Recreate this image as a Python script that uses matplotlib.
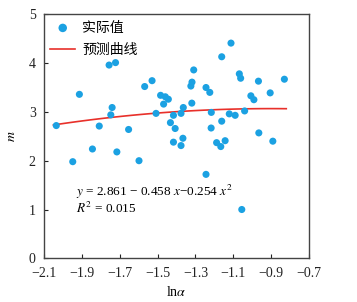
import numpy as np
import matplotlib
matplotlib.use("Agg")
import matplotlib.pyplot as plt

plt.rcParams['font.family'] = ['Liberation Serif', 'Noto Sans CJK SC']
plt.rcParams['mathtext.fontset'] = 'stix'
plt.rcParams['axes.unicode_minus'] = True

# measured points (ln alpha, m)
ln_alpha = [-2.035, -1.948, -1.913, -1.844, -1.808, -1.756, -1.722, -1.747, -1.740, -1.715,
            -1.653, -1.598, -1.568, -1.529, -1.508, -1.484, -1.459, -1.443, -1.468, -1.416,
            -1.432, -1.407, -1.416, -1.376, -1.376, -1.364, -1.366, -1.319, -1.309, -1.318,
            -1.324, -1.244, -1.224, -1.216, -1.217, -1.244, -1.188, -1.166, -1.143, -1.161,
            -1.161, -1.112, -1.121, -1.090, -1.040, -1.068, -1.061, -1.055, -1.007, -0.991,
            -0.967, -0.965, -0.905, -0.891, -0.830]
m_vals = [2.72, 1.98, 3.36, 2.24, 2.71, 3.96, 4.01, 2.94, 3.09, 2.18,
          2.64, 2.00, 3.52, 3.64, 2.97, 3.34, 3.31, 3.26, 3.16, 2.93,
          2.78, 2.66, 2.38, 2.31, 2.97, 3.09, 2.46, 3.18, 3.86, 3.61,
          3.53, 3.50, 3.40, 2.99, 2.67, 1.72, 2.37, 2.29, 2.41, 2.81,
          4.13, 4.41, 2.96, 2.93, 3.02, 3.78, 3.69, 1.00, 3.33, 3.25,
          3.63, 2.57, 3.39, 2.40, 3.67]

# fitted quadratic y = c0 + c1*x + c2*x^2
coef = [2.861, -0.458, -0.254]
fit_range = [-2.05, -0.82]

fig = plt.figure(figsize=(3.57, 3.02), dpi=100)
ax = fig.add_axes([0.1232, 0.1447, 0.7423, 0.8079])

ax.scatter(ln_alpha, m_vals, s=26, color='#1ba1e2', edgecolors='none', label='实际值', zorder=3)

xs = np.linspace(fit_range[0], fit_range[1], 100)
ys = coef[0] + coef[1] * xs + coef[2] * xs ** 2
ax.plot(xs, ys, color='#e8302a', lw=1.2, label='预测曲线', zorder=2)

ax.set_xlim(-2.1, -0.7)
ax.set_ylim(0, 5)
ax.set_xticks(np.arange(-2.1, -0.69, 0.2))
ax.set_xticklabels(['−2.1', '−1.9', '−1.7', '−1.5', '−1.3', '−1.1', '−0.9', '−0.7'])
ax.set_yticks([0, 1, 2, 3, 4, 5])
ax.tick_params(direction='in', length=3, width=0.8, labelsize=10, colors='#222222')
ax.tick_params(axis='x', pad=6)
ax.tick_params(axis='y', pad=6)
for sp in ax.spines.values():
    sp.set_color('#444444')
    sp.set_linewidth(1.0)

ax.set_xlabel(r'ln$\alpha$', fontsize=10, labelpad=4)
ax.set_ylabel(r'$m$', fontsize=10, labelpad=8)

ax.text(0.12, 0.27, r'$y$ = 2.861 − 0.458 $x$−0.254 $x^2$', transform=ax.transAxes,
        fontsize=9.5, va='center')
ax.text(0.12, 0.205, r'$R^2$ = 0.015', transform=ax.transAxes, fontsize=9.5, va='center')

ax.legend(loc='upper left', frameon=False, handlelength=1.8, markerscale=1.2,
          borderaxespad=0.15, borderpad=0.3, labelspacing=0.6, handletextpad=0.5,
          prop={'family': ['Noto Sans CJK SC'], 'size': 10})

fig.savefig('out.png', dpi=100)
